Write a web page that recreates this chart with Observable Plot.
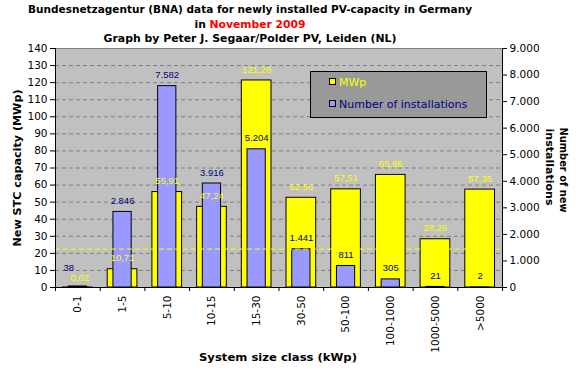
<!DOCTYPE html>
<html><head><meta charset="utf-8">
<script src="https://cdn.jsdelivr.net/npm/d3@7"></script>
<script src="https://cdn.jsdelivr.net/npm/@observablehq/plot@0.6"></script>
<style>html,body{margin:0;padding:0;background:#fff} svg{display:block}</style>
</head><body><div id="chart"></div>
<script>
// ---- data ----
const categories = ["0-1","1-5","5-10","10-15","15-30","30-50","50-100","100-1000","1000-5000",">5000"];
const mwp = [0.02,10.71,55.91,47.24,121.28,52.56,57.51,65.95,28.26,57.35];
const installations = [38,2846,7582,3916,5204,1441,811,305,21,2];
const leftTicks = [0,10,20,30,40,50,60,70,80,90,100,110,120,130,140];
const rightTicks = [0,1000,2000,3000,4000,5000,6000,7000,8000,9000];
const referenceMWp = [22.5];
const seriesNames = ["MWp","Number of installations"];

// ---- helpers ----
const Y_MAX = 140, N_MAX = 9000;
const toY = n => n * Y_MAX / N_MAX;
const loc = d3.formatLocale({decimal:",", thousands:".", grouping:[3], currency:["",""]});
const fmtN = loc.format(",d");
const fmtM = loc.format(".2f");
const rows = categories.map((c,i)=>({c, i, mwp:mwp[i], n:installations[i], ny:toY(installations[i])}));

const W = 581, H = 371, mL = 55, mR = 79, mT = 48, mB = 84;
const band = (W - mL - mR) / categories.length;
const yInset = band * 0.168, bInset = band * 0.296;
const YELLOW = "#ffff00", BLUE = "#9999ff", NAVY = "#000080";
const lblFont = {fontFamily:"Liberation Sans, Arial, sans-serif", fontSize:9.5};

const plot = Plot.plot({
  width: W, height: H,
  marginLeft: mL, marginRight: mR, marginTop: mT, marginBottom: mB,
  style: {fontFamily:"DejaVu Sans, Verdana, sans-serif", fontSize:"10.5px", color:"#000", background:"#fff", overflow:"visible"},
  x: {type:"linear", domain:[0, categories.length], axis:null},
  y: {domain:[0, Y_MAX], axis:null},
  marks: [
    Plot.frame({fill:"#c0c0c0", stroke:null}),
    Plot.gridY(leftTicks.filter(v => v > 0 && v < Y_MAX), {stroke:"#808080", strokeOpacity:1, strokeDasharray:"4,3"}),
    Plot.ruleY([Y_MAX], {stroke:"#808080"}),
    Plot.rectY(rows, {x1:"i", x2:d => d.i + 1, y:"mwp", fill:YELLOW, stroke:"#000", insetLeft:yInset, insetRight:yInset}),
    Plot.rectY(rows, {x1:"i", x2:d => d.i + 1, y:"ny", fill:BLUE, stroke:"#000", insetLeft:bInset, insetRight:bInset}),
    Plot.ruleY(referenceMWp, {stroke:YELLOW, strokeDasharray:"5,3"}),
    Plot.text(rows.filter(d => d.i > 0), {x:d => d.i + 0.5, y:"mwp", text:d => fmtM(d.mwp), fill:YELLOW, dy:-11, ...lblFont}),
    Plot.text(rows.filter(d => d.i === 0), {x:d => d.i + 0.5, y:"mwp", text:d => fmtM(d.mwp), fill:YELLOW, dy:-10, dx:2, ...lblFont}),
    Plot.text(rows.filter(d => d.i > 0), {x:d => d.i + 0.5, y:"ny", text:d => fmtN(d.n), fill:NAVY, dy:-11, ...lblFont}),
    Plot.text(rows.filter(d => d.i === 0), {x:d => d.i + 0.5, y:"ny", text:d => fmtN(d.n), fill:NAVY, dy:-19, dx:-9, ...lblFont}),
    Plot.ruleX([0], {stroke:"#000"}),
    Plot.ruleX([categories.length], {stroke:"#000"}),
    Plot.ruleY([0], {stroke:"#000"}),
    Plot.axisY(leftTicks, {anchor:"left", tickSize:5, tickPadding:3, label:null}),
    Plot.axisY(rightTicks.map(toY), {anchor:"right", tickSize:4, tickPadding:3, label:null,
      tickFormat: d => fmtN(Math.round(d * N_MAX / Y_MAX))}),
    Plot.axisX(d3.range(0, categories.length + 1), {anchor:"bottom", tickSize:4, tickFormat:() => "", label:null}),
    Plot.axisX(d3.range(categories.length).map(i => i + 0.5), {anchor:"bottom", tickSize:0, tickPadding:8, tickRotate:-90,
      tickFormat: d => categories[Math.floor(d)], label:null})
  ]
});

const svg = d3.select(plot.tagName === "svg" ? plot : plot.querySelector("svg"));
const bold = "DejaVu Sans, Verdana, sans-serif";

// titles
const tg = svg.append("g").attr("font-family", bold).attr("font-weight", "bold")
  .attr("font-size", 11).attr("text-anchor", "middle").attr("fill", "#000");
tg.append("text").attr("x", 250).attr("y", 13).attr("textLength", 444).attr("lengthAdjust", "spacingAndGlyphs")
  .text("Bundesnetzagentur (BNA) data for newly installed PV-capacity in Germany");
const t2 = tg.append("text").attr("x", 250).attr("y", 27.5).attr("textLength", 111).attr("lengthAdjust", "spacingAndGlyphs");
t2.append("tspan").text("in ");
t2.append("tspan").attr("fill", "#ff0000").text("November 2009");
tg.append("text").attr("x", 250).attr("y", 42).attr("textLength", 293).attr("lengthAdjust", "spacingAndGlyphs")
  .text("Graph by Peter J. Segaar/Polder PV, Leiden (NL)");

// axis titles
const ag = svg.append("g").attr("font-family", bold).attr("font-weight", "bold")
  .attr("font-size", 11).attr("text-anchor", "middle").attr("fill", "#000");
ag.append("text").attr("transform", "translate(20.5,168) rotate(-90)").attr("textLength", 157).attr("lengthAdjust", "spacingAndGlyphs")
  .text("New STC capacity (MWp)");
ag.append("text").attr("transform", "translate(560,170) rotate(90)").attr("textLength", 85).attr("lengthAdjust", "spacingAndGlyphs")
  .text("Number of new");
ag.append("text").attr("transform", "translate(546,167) rotate(90)").attr("textLength", 77).attr("lengthAdjust", "spacingAndGlyphs")
  .text("installations");
ag.append("text").attr("x", 278).attr("y", 361).attr("textLength", 158).attr("lengthAdjust", "spacingAndGlyphs")
  .text("System size class (kWp)");

// legend
const lg = svg.append("g").attr("font-family", "DejaVu Sans, Verdana, sans-serif").attr("font-size", 11)
  .attr("text-anchor", "start");
lg.append("rect").attr("x", 310.5).attr("y", 71.5).attr("width", 176).attr("height", 46).attr("fill", "#999999").attr("stroke", "#000");
const swatch = [YELLOW, BLUE], txtCol = [YELLOW, NAVY];
seriesNames.forEach((name, k) => {
  const cy = 82 + k * 22;
  lg.append("rect").attr("x", 329.5).attr("y", cy - 3.5).attr("width", 6).attr("height", 6).attr("fill", swatch[k]).attr("stroke", "#000");
  lg.append("text").attr("x", 339).attr("y", cy).attr("dy", "0.35em").attr("fill", txtCol[k]).text(name);
});

document.getElementById("chart").append(plot);
</script>
</body></html>
